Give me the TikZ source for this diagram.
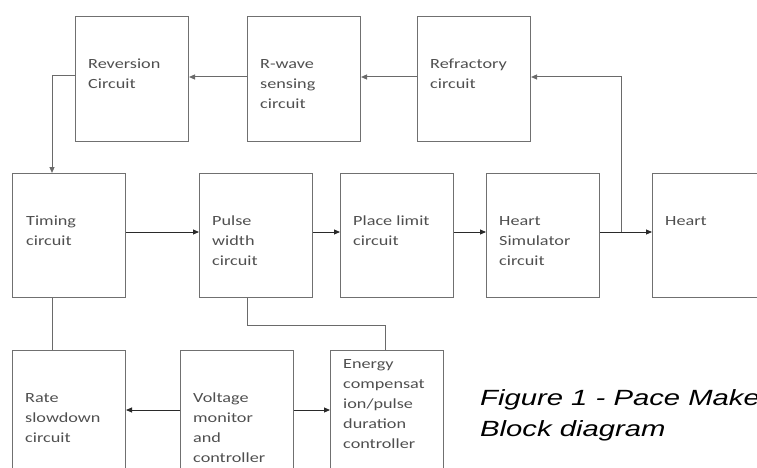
\documentclass[tikz,border=0pt]{standalone}
\usepackage{fontspec}
\newfontfamily\boxfont[FakeStretch=1.3]{Carlito}
\newfontfamily\capfont[FakeStretch=1.33]{Liberation Sans}
\usetikzlibrary{arrows.meta}
\definecolor{boxline}{HTML}{707070}
\definecolor{txt}{HTML}{4F4F4F}
\definecolor{arrcol}{HTML}{2A2A2A}
\definecolor{fbcol}{HTML}{6A6A6A}
\begin{document}
\begin{tikzpicture}[x=1pt,y=-1pt,
  box/.style={draw=boxline, line width=1pt, inner sep=0pt, anchor=north west,
              minimum width=113pt, minimum height=125pt},
  lbl/.style={anchor=north west, inner sep=0pt, align=left, text=txt,
              font=\boxfont\fontsize{14}{20}\selectfont},
  arr/.style={draw=arrcol, line width=0.9pt, -{Triangle[length=6pt,width=5pt]}},
  fb/.style={draw=fbcol, line width=1pt, -{Triangle[length=6pt,width=5pt]}},
  ln/.style={draw=fbcol, line width=1pt}]
\useasboundingbox (0,0) rectangle (757,468);
\clip (0,0) rectangle (757,468);
% boxes
\node[box] (rev)  at (75,16)  {};
\node[box] (rw)   at (247,16) {};
\node[box] (ref)  at (417,16) {};
\node[box, minimum height=124pt] (tim)  at (12,173)  {};
\node[box, minimum height=124pt] (pw)   at (199,173) {};
\node[box, minimum height=124pt] (pl)   at (340,173) {};
\node[box, minimum height=124pt] (hs)   at (486,173) {};
\node[box, minimum height=124pt] (hrt)  at (652,173) {};
\node[box] (rate) at (12,350)  {};
\node[box] (volt) at (180,350) {};
\node[box] (en)   at (330,350) {};
% labels
\node[lbl] (trev)  at (88,54)   {\strut Reversion\\Circuit};
\node[lbl] (trw)   at (260,54)  {\strut R-wave\\sensing\\circuit};
\node[lbl] (tref)  at (430,54)  {\strut Refractory\\circuit};
\node[lbl] (ttim)  at (26,211)  {\strut Timing\\circuit};
\node[lbl] (tpw)   at (212,211) {\strut Pulse\\width\\circuit};
\node[lbl] (tpl)   at (353,211) {\strut Place limit\\circuit};
\node[lbl] (ths)   at (499,211) {\strut Heart\\Simulator\\circuit};
\node[lbl] (thrt)  at (665,211) {\strut Heart};
\node[lbl] (trate) at (25,388)  {\strut Rate\\slowdown\\circuit};
\node[lbl] (tvolt) at (193,388) {\strut Voltage\\monitor\\and\\controller};
\node[lbl] (ten)   at (343,354) {\strut Energy\\compensat\\ion/pulse\\duration\\controller};
% caption
\node[anchor=north west, inner sep=0pt, align=left,
      font=\capfont\itshape\fontsize{22}{31}\selectfont] (cap) at (480,384)
      {\strut Figure 1 - Pace Make\\Block diagram};
% helper coordinates
\coordinate (ytop) at (0,77);
\coordinate (ymid) at (0,232);
\coordinate (ybot) at (0,410);
\coordinate (c1) at (52,76);
\coordinate (c2) at (247,325);
\coordinate (c3) at (385,325);
\coordinate (jn) at (621,232);
% connectors
\draw[fb] (ref.west |- ytop) -- (rw.east |- ytop);
\draw[fb] (rw.west |- ytop) -- (rev.east |- ytop);
\draw[fb] (rev.west |- c1) -- (c1) -- (c1 |- tim.north);
\draw[arr] (tim.east |- ymid) -- (pw.west |- ymid);
\draw[arr] (pw.east |- ymid) -- (pl.west |- ymid);
\draw[arr] (pl.east |- ymid) -- (hs.west |- ymid);
\draw[arr] (hs.east |- ymid) -- (hrt.west |- ymid);
\draw[fb] (jn) -- (jn |- ytop) -- (ref.east |- ytop);
\draw[ln] (tim.south -| c1) -- (rate.north -| c1);
\draw[ln] (pw.south -| c2) -- (c2) -- (c3) -- (en.north -| c3);
\draw[arr] (volt.west |- ybot) -- (rate.east |- ybot);
\draw[arr] (volt.east |- ybot) -- (en.west |- ybot);
\end{tikzpicture}
\end{document}
